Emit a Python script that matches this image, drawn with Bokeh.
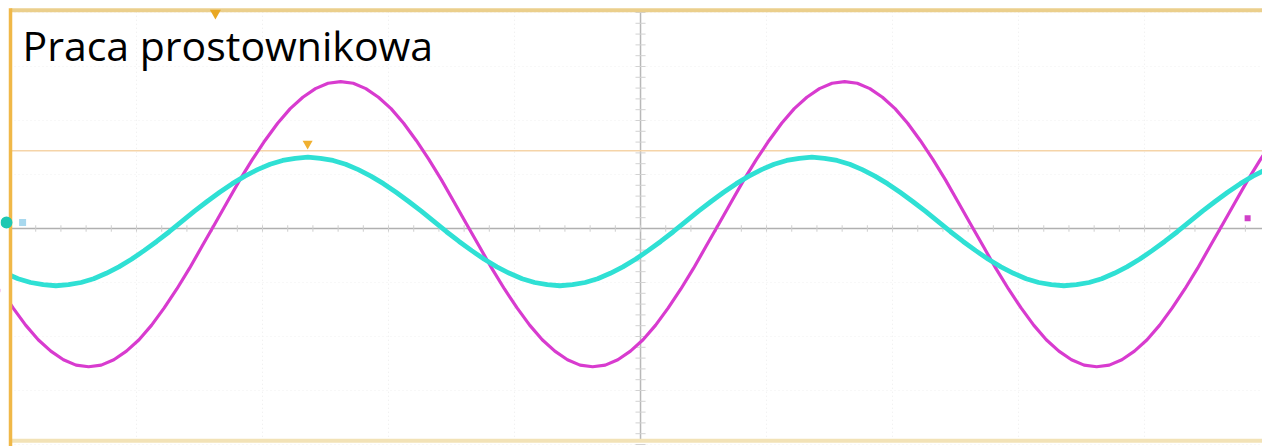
from bokeh.plotting import figure
from bokeh.models import Range1d
from bokeh.core.properties import value
from bokeh.embed import file_html
from bokeh.resources import INLINE

# ---- data (time in ms, 5 ms/div; amplitude in divisions) ----
title_text = "Praca prostownikowa"

mag_t = [-0.4, 0.1, 0.6, 1.1, 1.6, 2.1, 2.6, 3.1, 3.6, 4.1,
         4.6, 5.1, 5.6, 6.1, 6.6, 7.1, 7.6, 8.1, 8.6, 9.1,
         9.6, 10.1, 10.6, 11.1, 11.6, 12.1, 12.6, 13.1, 13.6, 14.1,
         14.6, 15.1, 15.6, 16.1, 16.6, 17.1, 17.6, 18.1, 18.6, 19.1,
         19.6, 20.1, 20.6, 21.1, 21.6, 22.1, 22.6, 23.1, 23.6, 24.1,
         24.6, 25.1, 25.6, 26.1, 26.6, 27.1, 27.6, 28.1, 28.6, 29.1,
         29.6, 30.1, 30.6, 31.1, 31.6, 32.1, 32.6, 33.1, 33.6, 34.1,
         34.6, 35.1, 35.6, 36.1, 36.6, 37.1, 37.6, 38.1, 38.6, 39.1,
         39.6, 40.1, 40.6, 41.1, 41.6, 42.1, 42.6, 43.1, 43.6, 44.1,
         44.6, 45.1, 45.6, 46.1, 46.6, 47.1, 47.6, 48.1, 48.6, 49.1,
         49.6, 50.1]
mag_v = [-1.12,
         -1.47, -1.79, -2.06, -2.27, -2.43, -2.53, -2.56, -2.53, -2.43, -2.27,
         -2.06, -1.79, -1.47, -1.12, -0.74, -0.33, 0.08, 0.49, 0.90, 1.28,
         1.63, 1.95, 2.22, 2.43, 2.59, 2.69,
         2.72, 2.69, 2.59, 2.43, 2.22, 1.95, 1.63, 1.28, 0.90, 0.49,
         0.08, -0.33, -0.74, -1.12, -1.47, -1.79, -2.06, -2.27, -2.43, -2.53,
         -2.56, -2.53, -2.43, -2.27, -2.06, -1.79, -1.47, -1.12, -0.74, -0.33,
         0.08, 0.49, 0.90, 1.28, 1.63, 1.95, 2.22, 2.43, 2.59, 2.69,
         2.72, 2.69, 2.59, 2.43, 2.22, 1.95, 1.63, 1.28, 0.90, 0.49,
         0.08, -0.33, -0.74, -1.12, -1.47, -1.79, -2.06, -2.27, -2.43, -2.53,
         -2.56, -2.53, -2.43, -2.27, -2.06, -1.79, -1.47, -1.12, -0.74, -0.33,
         0.08, 0.49, 0.90, 1.28, 1.63]

cyan_t = [-0.2, 0.3, 0.8, 1.3, 1.8, 2.3, 2.8, 3.3, 3.8, 4.3,
          4.8, 5.3, 5.8, 6.3, 6.8, 7.3, 7.8, 8.3, 8.8, 9.3,
          9.8, 10.3, 10.8, 11.3, 11.8, 12.3, 12.8, 13.3, 13.8, 14.3,
          14.8, 15.3, 15.8, 16.3, 16.8, 17.3, 17.8, 18.3, 18.8, 19.3,
          19.8, 20.3, 20.8, 21.3, 21.8, 22.3, 22.8, 23.3, 23.8, 24.3,
          24.8, 25.3, 25.8, 26.3, 26.8, 27.3, 27.8, 28.3, 28.8, 29.3,
          29.8, 30.3, 30.8, 31.3, 31.8, 32.3, 32.8, 33.3, 33.8, 34.3,
          34.8, 35.3, 35.8, 36.3, 36.8, 37.3, 37.8, 38.3, 38.8, 39.3,
          39.8, 40.3, 40.8, 41.3, 41.8, 42.3, 42.8, 43.3, 43.8, 44.3,
          44.8, 45.3, 45.8, 46.3, 46.8, 47.3, 47.8, 48.3, 48.8, 49.3,
          49.8, 50.3]
cyan_v = [-0.83, -0.93, -1.00, -1.04, -1.06, -1.04, -1.00, -0.93, -0.83, -0.71,
          -0.57, -0.41, -0.24, -0.06, 0.13, 0.32, 0.50, 0.67, 0.83, 0.97,
          1.09, 1.19, 1.26, 1.30,
          1.32, 1.30, 1.26, 1.19, 1.09, 0.97, 0.83, 0.67, 0.50, 0.32,
          0.13, -0.06, -0.24, -0.41, -0.57, -0.71, -0.83, -0.93, -1.00, -1.04,
          -1.06, -1.04, -1.00, -0.93, -0.83, -0.71, -0.57, -0.41, -0.24, -0.06,
          0.13, 0.32, 0.50, 0.67, 0.83, 0.97, 1.09, 1.19, 1.26, 1.30,
          1.32, 1.30, 1.26, 1.19, 1.09, 0.97, 0.83, 0.67, 0.50, 0.32,
          0.13, -0.06, -0.24, -0.41, -0.57, -0.71, -0.83, -0.93, -1.00, -1.04,
          -1.06, -1.04, -1.00, -0.93, -0.83, -0.71, -0.57, -0.41, -0.24, -0.06,
          0.13, 0.32, 0.50, 0.67, 0.83, 0.97, 1.09, 1.19]

trigger_level = 1.44
trigger_time = 8.13
trigger_mark = (11.79, 1.57)
ch2_mark = (49.09, 0.19)
ch1_mark = (-0.16, 0.11)
ch1_ref = (0.48, 0.11)

div_t = [0, 5, 10, 15, 20, 25, 30, 35, 40, 45, 50]
div_y = [-4, -3, -2, -1, 0, 1, 2, 3, 4]
top_edge = 4.04
bottom_edge = -3.93

# ---- figure ----
p = figure(width=1262, height=446, output_backend="svg", toolbar_location=None,
           x_range=Range1d(-0.397, 49.68), y_range=Range1d(-4.037, 4.222),
           min_border=0)
p.axis.visible = False
p.grid.visible = False
p.outline_line_color = None
p.background_fill_color = "white"
p.border_fill_color = "white"

# faint division grid
for t in div_t[1:]:
    if t == 25:
        continue
    p.segment(x0=t, y0=bottom_edge, x1=t, y1=top_edge, line_color="#ececec",
              line_width=1, line_dash="1 3")
for y in div_y:
    if y == 0:
        continue
    p.segment(x0=0, y0=y, x1=50, y1=y, line_color="#f0f0f0", line_width=1, line_dash="1 3")

# centre cross with sub-division ticks
p.segment(x0=0, y0=0, x1=50, y1=0, line_color="#b0b0b0", line_width=1.5)
p.segment(x0=25, y0=bottom_edge, x1=25, y1=top_edge, line_color="#b8b8b8", line_width=1.5)
tx = [i * 1.0 for i in range(1, 50)]
p.segment(x0=tx, y0=[-0.06] * len(tx), x1=tx, y1=[0.06] * len(tx), line_color="#cfcfcf", line_width=1)
ty = [i * 0.2 for i in range(-20, 21) if i != 0]
p.segment(x0=[24.8] * len(ty), y0=ty, x1=[25.2] * len(ty), y1=ty, line_color="#d2d2d2", line_width=1)

# trigger level
p.segment(x0=0, y0=trigger_level, x1=50, y1=trigger_level, line_color="#f5d4a8", line_width=1.6)

# traces
p.line(mag_t, mag_v, line_color="#d83bcf", line_width=3.2)
p.line(cyan_t, cyan_v, line_color="#2fe0d4", line_width=4.8)

# mask left of screen
p.quad(left=-1, right=0, bottom=-5, top=5, fill_color="white", line_color=None)

# screen borders
p.segment(x0=0, y0=top_edge, x1=50, y1=top_edge, line_color="#ebcf8c", line_width=4)
p.segment(x0=0, y0=bottom_edge, x1=50, y1=bottom_edge, line_color="#f2e2b6", line_width=4)
p.segment(x0=0, y0=-4.2, x1=0, y1=top_edge + 0.04, line_color="#f0b848", line_width=3.5)

# markers
p.scatter([trigger_time], [top_edge - 0.05], marker="inverted_triangle", size=11,
          fill_color="#e9a823", line_color=None)
p.scatter([trigger_mark[0]], [trigger_mark[1]], marker="inverted_triangle", size=10,
          fill_color="#f0b030", line_color=None)
p.scatter([ch2_mark[0]], [ch2_mark[1]], marker="square", size=6,
          fill_color="#d040c8", line_color=None)
p.scatter([ch1_ref[0]], [ch1_ref[1]], marker="square", size=7,
          fill_color="#a8d8ee", line_color=None)
p.scatter([ch1_mark[0]], [ch1_mark[1]], marker="circle", size=12,
          fill_color="#1fc8b2", line_color=None)

# title text
p.text(x=[0.476], y=[3.40], text=[title_text], text_font=value("Open Sans"),
       text_font_size="41px", text_color="black", text_baseline="alphabetic",
       text_align="left")

open("out.html", "w").write(file_html(p, INLINE))
